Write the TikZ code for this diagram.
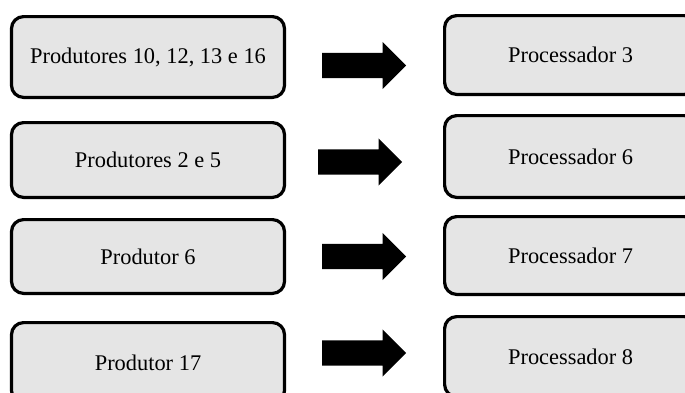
\documentclass[tikz,border=0pt]{standalone}
\usepackage{fontspec}
\setmainfont{Liberation Serif}
\usetikzlibrary{shapes.arrows}
\begin{document}
\begin{tikzpicture}[
  x=1pt, y=-1pt,
  caixa/.style={draw, line width=3.2pt, fill=black!10, rounded corners=12pt,
    minimum width=273pt, font=\fontsize{22.4}{26}\selectfont},
  proc/.style={caixa, minimum width=252pt},
  seta/.style={single arrow, fill=black, inner xsep=0pt, inner ysep=12.5pt,
    minimum height=84pt, minimum width=47pt, single arrow head extend=11pt,
    anchor=tail}]
\useasboundingbox (0,0) rectangle (685,392);
\clip (0,0) rectangle (685,392);
\node [caixa, minimum height=80.8pt] (prod1) at (148,57) {Produtores 10, 12, 13 e 16};
\node [caixa, minimum height=74.8pt] (prod2) at (148,160) {Produtores 2 e 5};
\node [caixa, minimum height=73.8pt] (prod3) at (148,256.5) {Produtor 6};
\node [caixa, minimum height=80pt] (prod4) at (148,362.6) {Produtor 17};
\node [proc, minimum height=78.8pt] (proc1) at (570.6,55) {Processador 3};
\node [proc, minimum height=81.8pt] (proc2) at (570.6,156.5) {Processador 6};
\node [proc, minimum height=77.8pt] (proc3) at (570.6,255.5) {Processador 7};
\node [proc, minimum height=80pt] (proc4) at (570.6,356.6) {Processador 8};
\node [seta] (seta1) at (322,65.5) {};
\node [seta] (seta2) at (318,162) {};
\node [seta] (seta3) at (322,256.5) {};
\node [seta] (seta4) at (322,353) {};
\end{tikzpicture}
\end{document}
